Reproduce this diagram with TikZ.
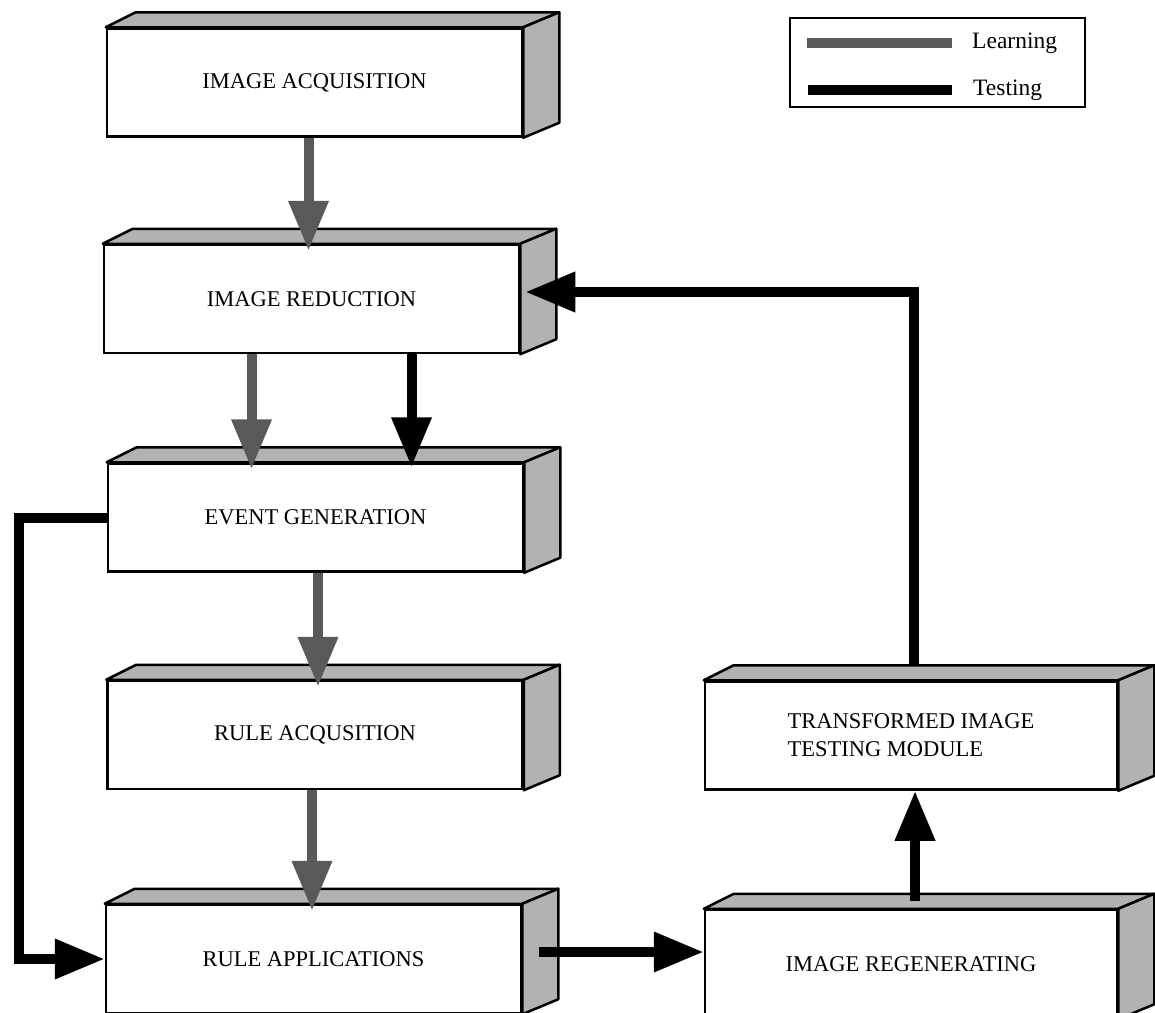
\documentclass[tikz,border=0pt]{standalone}
\usepackage{fontspec}
\setmainfont{Liberation Serif}
\usetikzlibrary{arrows.meta,calc}
\tikzset{
  block/.style={draw, line width=2.5pt, fill=white, minimum width=415pt,
    minimum height=108pt, inner sep=0pt, align=left,
    font=\fontsize{22.5}{28}\selectfont},
  face/.style={draw, line width=2.5pt, line join=round, fill=black!30},
  learn/.style={draw=black!65, line width=10pt,
    -{Triangle[length=50pt,width=38pt]}, shorten >=-7pt},
  test/.style={draw=black, line width=10pt, line join=miter,
    -{Triangle[length=50pt,width=38pt]}},
  key/.style={anchor=west, inner sep=0pt, font=\fontsize{23.5}{28}\selectfont},
}
% top and side faces of a block
\newcommand{\slab}[1]{%
  \path[face] (#1.north west) -- ++(30,-15) -- ($(#1.north east)+(36,-15)$) -- (#1.north east) -- cycle;
  \path[face] (#1.north east) -- ++(36,-15) -- ($(#1.south east)+(36,-15)$) -- (#1.south east) -- cycle;
}

\begin{document}
\begin{tikzpicture}[x=1pt,y=1pt,yscale=-1]
\useasboundingbox (0,0) rectangle (1155,1012);
\clip (0,0) rectangle (1155,1012);

% Blocks
\node[block] (acq) at (314.5,82.5) {IMAGE ACQUISITION};
\node[block] (red) at (311.5,299) {IMAGE REDUCTION};
\node[block] (evt) at (315.5,517.5) {EVENT GENERATION};
\node[block] (racq) at (315,735) {RULE ACQUSITION};
\node[block] (rapp) at (313.5,959) {RULE APPLICATIONS};
\node[block, minimum width=412pt] (trans) at (911,735.5) {TRANSFORMED IMAGE\\TESTING MODULE};
\node[block, minimum width=412pt] (regen) at (911,964) {IMAGE REGENERATING};
\foreach \b in {acq,red,evt,racq,rapp,trans,regen}{\slab{\b}}

% Legend
\node[draw, line width=2pt, minimum width=295pt, minimum height=89pt] (legend) at (937.5,62.5) {};
\node[key] (lrn) at (972,43) {Learning};
\node[key] (tst) at (973,90) {Testing};
\draw[black!65, line width=10pt] ($(lrn.west)+(-165,0)$) -- ($(lrn.west)+(-20,0)$);
\draw[line width=10pt] ($(tst.west)+(-165,0)$) -- ($(tst.west)+(-21,0)$);

% Learning path
\draw[learn] ($(acq.south)+(-6,0)$) -- ($(red.north)+(-3,0)$);
\draw[learn] ($(red.south)+(-60,0)$) -- ($(evt.north)+(-64,0)$);
\draw[learn] ($(evt.south)+(2.5,0)$) -- ($(racq.north)+(3,0)$);
\draw[learn] ($(racq.south)+(-3,0)$) -- ($(rapp.north)+(-1.5,0)$);

% Testing path
\draw[test, shorten >=-5pt] ($(red.south)+(100,0)$) -- ($(evt.north)+(96,0)$);
\coordinate (loop) at (19,0);
\draw[test] (evt.west) -- (evt.west -| loop) |- (rapp.west);
\coordinate (out) at ($(rapp.east)+(17,-7)$);
\draw[test] (out) -- (out -| regen.west);
\draw[test] ($(regen.north)+(4,-8)$) -- ($(trans.south)+(4,0)$);
\draw[test] ($(trans.north)+(3,-16)$) |- ($(red.east)+(5,-7)$);

\end{tikzpicture}
\end{document}
